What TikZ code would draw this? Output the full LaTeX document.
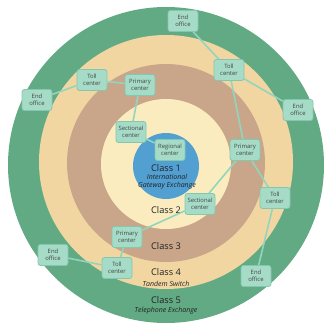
\documentclass[tikz,border=0pt]{standalone}
\usepackage{fontspec}
\setmainfont{Open Sans}
\usepackage{xcolor}
\usepackage{tikz}

\definecolor{ringfive}{HTML}{62AA84}
\definecolor{ringfour}{HTML}{F2D6A2}
\definecolor{ringthree}{HTML}{C9A68A}
\definecolor{ringtwo}{HTML}{FBECC0}
\definecolor{ringone}{HTML}{529FD2}
\definecolor{nodefill}{HTML}{A6DCC7}
\definecolor{nodeedge}{HTML}{82C7AE}
\definecolor{linkgreen}{HTML}{93D5BC}
\definecolor{labeltext}{HTML}{222222}

\tikzset{
  office/.style={draw=nodeedge, fill=nodefill, rounded corners=2.5pt, line width=0.8pt,
    minimum width=30pt, minimum height=21pt, inner sep=1pt, align=center,
    font=\fontsize{5.9}{6.6}\selectfont, text=labeltext!85},
  link/.style={draw=linkgreen, line width=1.6pt},
  classlbl/.style={font=\fontsize{9.2}{10}\selectfont, text=labeltext},
  classsub/.style={font=\fontsize{7}{8}\selectfont\itshape, text=labeltext}
}

\begin{document}
\begin{tikzpicture}[x=1pt,y=-1pt]
  \useasboundingbox (0,0) rectangle (330,330);

  % Draw class rings
  \fill[ringfive] (166,165) circle (158pt);
  \fill[ringfour] (166,162) circle (127pt);
  \fill[ringthree] (166,163) circle (99pt);
  \fill[ringtwo] (166,164) circle (65pt);
  \fill[ringone] (166,166) circle (33pt);

  % Class labels
  \node[classlbl] (cone) at (166,168) {Class 1};
  \node[classsub] (conea) at (167,177) {International};
  \node[classsub] (coneb) at (167,186) {Gateway Exchange};
  \node[classlbl] (ctwo) at (166,210) {Class 2};
  \node[classlbl] (cthree) at (166,246) {Class 3};
  \node[classlbl] (cfour) at (166,272) {Class 4};
  \node[classsub] (cfoura) at (166,284) {Tandem Switch};
  \node[classlbl] (cfive) at (166,300) {Class 5};
  \node[classsub] (cfivea) at (166,311) {Telephone Exchange};

  % Draw offices
  \node[office] (eoTop) at (183,21) {End\\office};
  \node[office] (tollTR) at (229,70) {Toll\\center};
  \node[office] (eoRight) at (298,110) {End\\office};
  \node[office] (tollTL) at (92,80) {Toll\\center};
  \node[office] (eoLeft) at (37,100) {End\\office};
  \node[office] (primTop) at (140,85) {Primary\\center};
  \node[office] (sectLeft) at (131,132) {Sectional\\center};
  \node[office] (regional) at (170,150) {Regional\\center};
  \node[office] (primRight) at (245,150) {Primary\\center};
  \node[office] (tollRight) at (275,198) {Toll\\center};
  \node[office] (sectBottom) at (200,204) {Sectional\\center};
  \node[office] (primBL) at (127,237) {Primary\\center};
  \node[office] (tollBL) at (117,268) {Toll\\center};
  \node[office] (eoBL) at (53,255) {End\\office};
  \node[office] (eoBR) at (256,276) {End\\office};

  % Draw trunks
  \draw[link] (eoTop) -- (tollTR);
  \draw[link] (tollTR) -- (eoRight);
  \draw[link] (tollTR) -- (primRight);
  \draw[link] (eoLeft) -- (tollTL);
  \draw[link] (tollTL) -- (primTop);
  \draw[link] (primTop) -- (sectLeft);
  \draw[link] (sectLeft) -- (regional);
  \draw[link] (primRight) -- (sectBottom);
  \draw[link] (primRight) -- (tollRight);
  \draw[link] (tollRight) -- (eoBR);
  \draw[link] (sectBottom) -- (primBL);
  \draw[link] (primBL) -- (tollBL);
  \draw[link] (tollBL) -- (eoBL);
\end{tikzpicture}
\end{document}
